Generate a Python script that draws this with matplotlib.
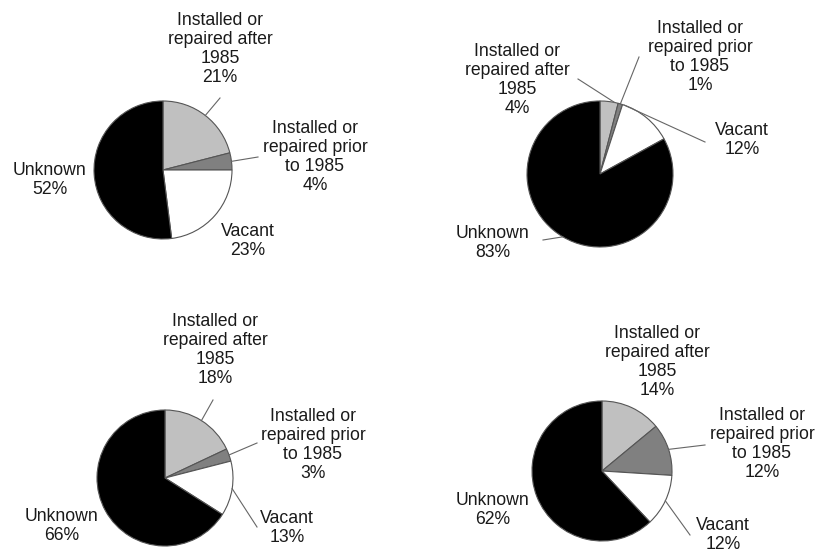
import numpy as np
import matplotlib
matplotlib.use("Agg")
import matplotlib.pyplot as plt

plt.rcParams['font.family'] = ['Liberation Sans', 'DejaVu Sans']

# Categories (clockwise from 12 o'clock) and slice colours
categories = ['Installed or\nrepaired after\n1985',
              'Installed or\nrepaired prior\nto 1985',
              'Vacant',
              'Unknown']
colors = ['#c0c0c0', '#808080', '#ffffff', '#000000']

# Percentages for each of the four pies
pie_a = [21, 4, 23, 52]
pie_b = [4, 1, 12, 83]
pie_c = [18, 3, 13, 66]
pie_d = [14, 12, 12, 62]
pies = [pie_a, pie_b, pie_c, pie_d]

# Layout in pixels (x from left, y from top): pie centre and radius
centres = [(163, 170), (600, 174), (165, 478), (602, 471)]
radii = [69, 73, 68, 70]

# Label centre positions per pie, per category
label_pos = [
    [(220, 49), (315, 157), (248, 241), (50, 180)],
    [(517, 80), (700, 57), (742, 140), (493, 243)],
    [(215, 350), (313, 445), (287, 528), (62, 526)],
    [(657, 362), (762, 444), (723, 535), (493, 510)],
]
# Leader lines: start point near the label (None = no leader) and
# fraction along the wedge (from its clockwise start) where it meets the rim
leader_start = [
    [(220, 98), (258, 157), None, None],
    [(578, 79), (639, 57), (705, 142), (543, 240)],
    [(213, 400), (257, 443), (257, 527), None],
    [None, (705, 445), (690, 535), None],
]
leader_frac = [
    [0.5, 0.5, 0.5, 0.5],
    [0.8, 0.5, 0.03, 0.5],
    [0.5, 0.5, 0.5, 0.5],
    [0.5, 0.5, 0.5, 0.5],
]

W, H = 817, 558
fig = plt.figure(figsize=(W / 100, H / 100), dpi=100)
ax = fig.add_axes([0, 0, 1, 1])

for k, vals in enumerate(pies):
    cx, cy = centres[k]
    cy = H - cy
    r = radii[k]
    wedges, _ = ax.pie(vals, colors=colors, startangle=90, counterclock=False,
                       center=(cx, cy), radius=r, frame=True,
                       wedgeprops=dict(edgecolor='#555555', linewidth=0.8))
    for i, w in enumerate(wedges):
        tx, ty = label_pos[k][i]
        ax.text(tx, H - ty, f'{categories[i]}\n{vals[i]}%', ha='center', va='center',
                fontsize=12.7, linespacing=1.17, color='#1a1a1a')
        if leader_start[k][i] is not None:
            f = leader_frac[k][i]
            ang = np.deg2rad(w.theta2 - f * (w.theta2 - w.theta1))
            ex = cx + r * np.cos(ang)
            ey = cy + r * np.sin(ang)
            sx, sy = leader_start[k][i]
            ax.plot([sx, ex], [H - sy, ey], color='#666666', linewidth=0.8)

ax.set_xlim(0, W)
ax.set_ylim(0, H)
ax.set_aspect('equal')
ax.axis('off')
fig.savefig('out.png', dpi=100, facecolor='white')
